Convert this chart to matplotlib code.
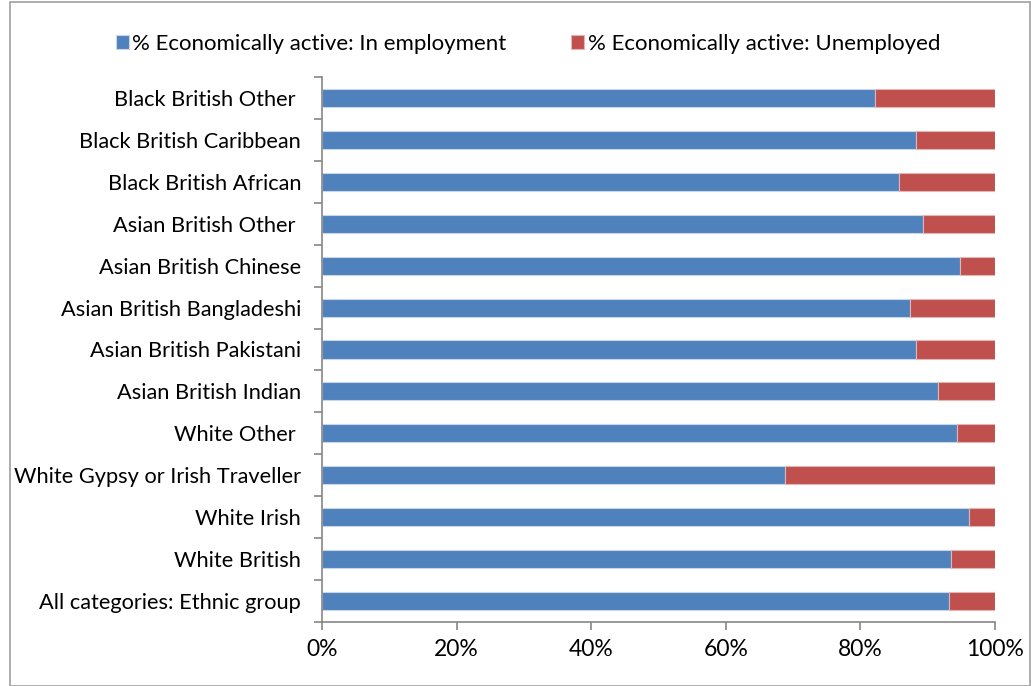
import numpy as np
import matplotlib.pyplot as plt
from matplotlib.patches import Rectangle
from matplotlib.ticker import FixedLocator, PercentFormatter

plt.rcParams['font.family'] = ['Lato', 'DejaVu Sans']

# ethnic groups, bottom to top
groups = ['All categories: Ethnic group', 'White British', 'White Irish',
          'White Gypsy or Irish Traveller', 'White Other ', 'Asian British Indian',
          'Asian British Pakistani', 'Asian British Bangladeshi', 'Asian British Chinese',
          'Asian British Other ', 'Black British African', 'Black British Caribbean',
          'Black British Other ']
employed = [93.2, 93.5, 96.2, 68.8, 94.4, 91.5, 88.2, 87.4, 94.8, 89.3, 85.8, 88.2, 82.1]
unemployed = [100 - e for e in employed]

blue = '#4F81BD'
red = '#C0504D'

fig = plt.figure(figsize=(10.31, 6.86), dpi=100)
ax = fig.add_axes([322 / 1031, 1 - 622 / 686, 673 / 1031, 545 / 686])

y = np.arange(len(groups))
ax.barh(y, employed, height=0.43, color=blue, edgecolor='#C9D6E8', linewidth=0.8,
        label='% Economically active: In employment')
ax.barh(y, unemployed, left=employed, height=0.43, color=red, edgecolor='#E3B5B4',
        linewidth=0.8, label='% Economically active: Unemployed')

ax.set_xlim(0, 100)
ax.set_ylim(-0.5, len(groups) - 0.5)
ax.set_xticks(np.arange(0, 101, 20))
ax.xaxis.set_major_formatter(PercentFormatter(decimals=0))
ax.set_yticks(y)
ax.set_yticklabels(groups)
ax.yaxis.set_minor_locator(FixedLocator(np.arange(-0.5, len(groups), 1)))

for s in ['top', 'right']:
    ax.spines[s].set_visible(False)
for s in ['left', 'bottom']:
    ax.spines[s].set_color('#868686')
    ax.spines[s].set_linewidth(1.2)

ax.tick_params(axis='y', which='major', length=0, pad=15, labelsize=15.7)
ax.tick_params(axis='y', which='minor', length=6, color='#868686', width=1.2)
ax.tick_params(axis='x', length=6, color='#868686', width=1.2, pad=6, labelsize=16.5)

fig.legend(loc='center', bbox_to_anchor=(0.512, 1 - 44 / 686), ncol=2, frameon=False,
           fontsize=16, handlelength=0.6, handleheight=0.6, handletextpad=0.15,
           columnspacing=2.9)

# chart border
fig.patches.append(Rectangle((10 / 1031, 0), 1 - 10 / 1031 - 0.001, 1 - 2 / 686,
                             transform=fig.transFigure, fill=False,
                             edgecolor='#A0A0A0', linewidth=1.2))

fig.savefig('out.png', dpi=100)
